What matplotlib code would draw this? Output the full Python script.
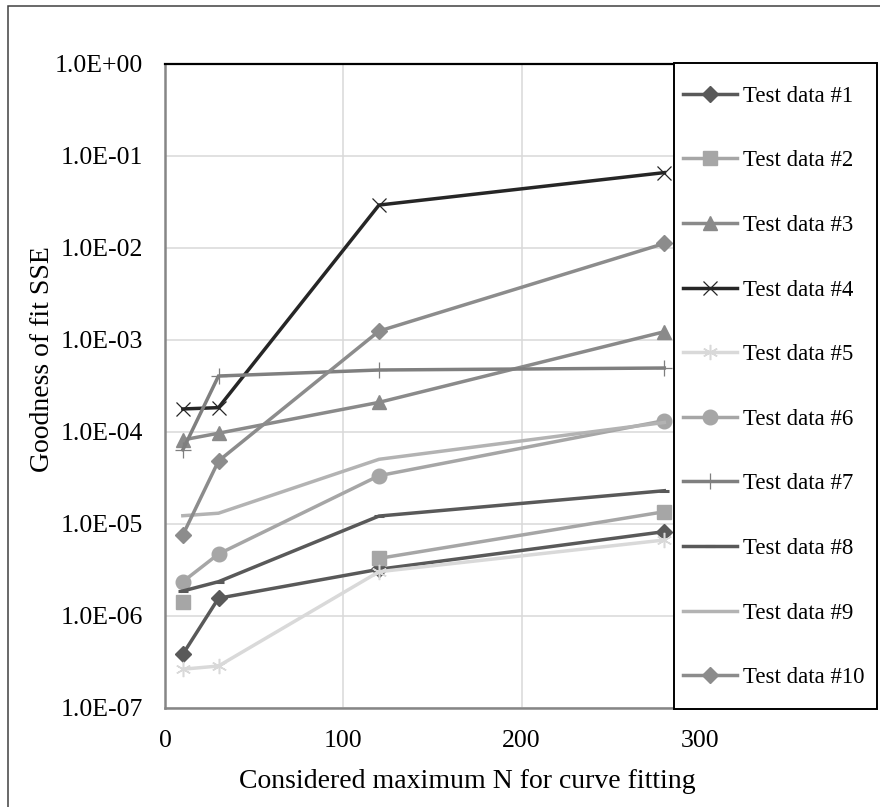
import numpy as np
import matplotlib
matplotlib.use("Agg")
import matplotlib.pyplot as plt
from matplotlib.patches import Rectangle
from matplotlib.ticker import FixedLocator, FuncFormatter

plt.rcParams['font.family'] = ['Liberation Serif', 'DejaVu Serif']

# Considered maximum N
n_values = [10, 30, 120, 280]

# goodness of fit (SSE) per test data set
test1 = [3.84e-7, 1.56e-6, 3.22e-6, 8.26e-6]
test2 = [1.41e-6, np.nan, 4.23e-6, 1.36e-5]
test3 = [8.2e-5, 9.7e-5, 2.1e-4, 1.23e-3]
test4 = [1.78e-4, 1.84e-4, 2.93e-2, 6.6e-2]
test5 = [2.64e-7, 2.86e-7, 3.03e-6, 6.7e-6]
test6 = [2.36e-6, 4.72e-6, 3.35e-5, 1.33e-4]
test7 = [6.4e-5, 4.06e-4, 4.72e-4, 4.96e-4]
test8 = [1.87e-6, 2.36e-6, 1.22e-5, 2.3e-5]
test9 = [1.23e-5, 1.31e-5, 5.05e-5, 1.27e-4]
test10 = [7.6e-6, 4.84e-5, 1.25e-3, 1.12e-2]

labels = ['Test data #%d' % i for i in range(1, 11)]
series = [test1, test2, test3, test4, test5, test6, test7, test8, test9, test10]

# (color, marker, markersize, markeredgewidth)
styles = [
    ('#595959', 'D', 8.5, 1.0),
    ('#a6a6a6', 's', 9.5, 1.0),
    ('#8a8a8a', '^', 10.5, 1.0),
    ('#262626', 'x', 10, 0.9),
    ('#d9d9d9', (6, 2, 0), 11, 1.1),
    ('#a6a6a6', 'o', 10.5, 1.0),
    ('#7f7f7f', '+', 11, 0.9),
    ('#595959', '_', 7, 2.2),
    ('#b3b3b3', 'None', 1, 1.0),
    ('#8c8c8c', 'D', 8.5, 1.0),
]

W, H = 880, 807
fig = plt.figure(figsize=(W / 100, H / 100), dpi=100)
ax = fig.add_axes([165 / W, 1 - 708 / H, (700 - 165) / W, (708 - 64) / H])

for vals, lab, (c, m, ms, mew) in zip(series, labels, styles):
    ax.plot(n_values, vals, color=c, lw=2.5, marker=m, ms=ms, mew=mew,
            mfc=c, mec=c, label=lab, solid_joinstyle='miter')

ax.set_yscale('log')
ax.set_ylim(1e-7, 1)
ax.set_xlim(0, 300)
ax.xaxis.set_major_locator(FixedLocator([0, 100, 200, 300]))
ax.yaxis.set_major_locator(FixedLocator([10.0 ** k for k in range(-7, 1)]))
ax.yaxis.set_minor_locator(FixedLocator([]))
ax.yaxis.set_major_formatter(FuncFormatter(lambda v, p: format(v, '.1E')))
ax.grid(True, color='#d9d9d9', lw=1.1)
ax.set_axisbelow(True)
ax.tick_params(length=0, labelsize=18.5, pad=16)

ax.spines['top'].set_color('black')
ax.spines['top'].set_linewidth(1.6)
for s in ('left', 'bottom'):
    ax.spines[s].set_color('#868686')
    ax.spines[s].set_linewidth(1.8)
ax.spines['right'].set_visible(False)

ax.set_xlabel('Considered maximum N for curve fitting', fontsize=20, va='center')
ax.xaxis.set_label_coords(0.566, -(782 - 708) / 644)
ax.set_ylabel('Goodness of fit SSE', fontsize=20, va='center')
ax.yaxis.set_label_coords((42 - 165) / 535, 1 - (359 - 64) / 644)

# legend box drawn over the right part of the plot area
fig.patches.append(Rectangle((674 / W, 1 - 709 / H), 203 / W, 646 / H,
                             transform=fig.transFigure, facecolor='white',
                             edgecolor='black', lw=1.4, zorder=3))
handles, labs = ax.get_legend_handles_labels()
fig.legend(handles, labs, loc='center left', bbox_to_anchor=(683 / W, 1 - 387 / H),
           frameon=False, fontsize=16.5, borderpad=0, borderaxespad=0,
           labelspacing=1.9, handlelength=2.36, handletextpad=0.26)

# outer chart border
fig.patches.append(Rectangle((8 / W, -0.1), 1.2, 1.1 - 6 / H, transform=fig.transFigure,
                             fill=False, edgecolor='#404040', lw=1.1, zorder=0))

fig.savefig('out.png', dpi=100)
